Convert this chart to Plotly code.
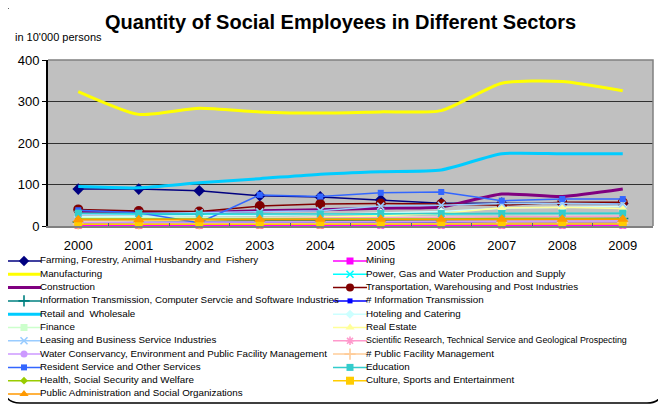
import plotly.graph_objects as go

W, H = 666, 405
# the page body adds an 8px offset; all pixel targets below are window pixels
OFF = 8

years = ['2000', '2001', '2002', '2003', '2004', '2005', '2006', '2007', '2008', '2009']
y_ticks = [0, 100, 200, 300, 400]

farming = [89, 89, 85, 73, 70, 63, 55, 55, 54, 54]
mining = [2, 2, 2, 2, 2, 2, 2, 2, 2, 2]
manufacturing = [324, 269, 284, 275, 272, 275, 278, 344, 348, 326]
power = [29, 28, 27, 28, 28, 29, 29, 30, 30, 30]
construction = [35, 33, 32, 37, 39, 43, 46, 77, 71, 89]
transport = [40, 36, 35, 48, 53, 54, 53, 50, 57, 57]
it_computer = [10, 11, 11, 12, 13, 14, 15, 16, 17, 18]
info_trans = [6, 6, 6, 7, 7, 7, 7, 7, 8, 8]
retail = [95, 92, 104, 114, 125, 131, 135, 174, 174, 174]
hoteling = [22, 23, 24, 26, 28, 32, 35, 43, 45, 47]
finance = [20, 20, 21, 21, 21, 22, 22, 23, 24, 24]
real_estate = [10, 12, 14, 18, 21, 25, 30, 44, 45, 42]
leasing = [28, 30, 32, 34, 37, 48, 50, 54, 55, 53]
scientific = [17, 17, 17, 18, 19, 20, 21, 22, 23, 24]
water = [9, 9, 9, 10, 10, 10, 11, 11, 11, 12]
public_facility = [5, 5, 5, 6, 6, 6, 6, 7, 7, 7]
resident = [38, 32, 8, 75, 71, 80, 82, 61, 65, 65]
education = [31, 30, 29, 29, 29, 30, 30, 30, 31, 31]
health = [17, 17, 17, 16, 16, 17, 17, 18, 18, 18]
culture = [4, 4, 4, 4, 4, 5, 5, 5, 5, 5]
public_admin = [15, 15, 15, 16, 16, 16, 16, 16, 16, 16]

# name, values, color, symbol, marker size, line width, smooth, legend font size
series = [
    ("Farming, Forestry, Animal Husbandry and  Fishery", farming, "#000080", "diamond", 9, 1.5, False, 9.8),
    ("Mining", mining, "#FF00FF", "square", 7, 1.5, False, 9.8),
    ("Manufacturing", manufacturing, "#FFFF00", None, 0, 3, True, 9.8),
    ("Power, Gas and Water Production and Supply", power, "#00FFFF", "x-thin", 7, 1.5, False, 9.8),
    ("Construction", construction, "#800080", None, 0, 3, True, 9.8),
    ("Transportation, Warehousing and Post Industries", transport, "#800000", "circle", 10, 1.5, False, 9.8),
    ("Information Transmission, Computer Servcie and Software Industries", it_computer, "#008080", "cross-thin", 8, 1.5, False, 9.8),
    ("# Information Transmission", info_trans, "#0000FF", "square", 5, 1.5, False, 9.8),
    ("Retail and  Wholesale", retail, "#00CCFF", None, 0, 3, True, 9.8),
    ("Hoteling and Catering", hoteling, "#CCFFFF", "diamond", 7, 1.5, False, 9.8),
    ("Finance", finance, "#CCFFCC", "square", 7, 1.5, False, 9.8),
    ("Real Estate", real_estate, "#FFFF99", "triangle-up", 8, 1.5, False, 9.8),
    ("Leasing and Business Service Industries", leasing, "#99CCFF", "x-thin", 7, 1.5, False, 9.8),
    ("Scientific Research, Technical Service and Geological Prospecting", scientific, "#FF99CC", "asterisk", 7, 1.5, False, 8.9),
    ("Water Conservancy, Environment and Public Facility Management", water, "#CC99FF", "circle", 7, 1.5, False, 9.8),
    ("# Public Facility Management", public_facility, "#FFCC99", "cross-thin", 8, 1.5, False, 9.8),
    ("Resident Service and Other Services", resident, "#3366FF", "square", 6, 1.5, False, 9.8),
    ("Education", education, "#33CCCC", "square", 7, 1.5, False, 9.8),
    ("Health, Social Security and Welfare", health, "#99CC00", "diamond", 6, 1.5, False, 9.8),
    ("Culture, Sports and Entertainment", culture, "#FFCC00", "square", 8, 1.5, False, 9.8),
    ("Public Administration and Social Organizations", public_admin, "#FF9900", "triangle-up", 10, 1.5, False, 9.8),
]

FONT = "Liberation Sans, Arial, sans-serif"

# plot area in window pixels
PL, PR, PT, PB = 48, 653, 60, 226


def px(x):
    return (x - OFF) / W


def py(y):
    return 1 - (y - OFF) / H


fig = go.Figure()


def marker_dict(color, symbol, size):
    if symbol is None:
        return dict(size=0.1, opacity=0)
    thin = symbol in ("x-thin", "cross-thin", "asterisk")
    return dict(symbol=symbol, size=size, color=color,
                line=dict(color=color, width=1.6 if thin else 0))


for name, vals, color, symbol, msize, lw, smooth, fs in series:
    fig.add_trace(go.Scatter(
        x=years, y=vals, name=name, mode="lines" if symbol is None else "lines+markers",
        line=dict(color=color, width=lw, shape="spline" if smooth else "linear", smoothing=0.6),
        marker=marker_dict(color, symbol, msize),
        showlegend=False, cliponaxis=False, xaxis="x", yaxis="y",
    ))

# custom two-column legend (row-major order, like the original)
row_h = 13.3
row0 = 261
col_x = [7, 333]
line_len = 34
mx, my, mtext, msz = [], [], [], []
for i, (name, vals, color, symbol, msize, lw, smooth, fs) in enumerate(series):
    r, c = divmod(i, 2)
    yy = row0 + r * row_h
    x0 = col_x[c]
    fig.add_trace(go.Scatter(
        x=[x0, x0 + line_len], y=[yy, yy], mode="lines",
        line=dict(color=color, width=lw), showlegend=False, hoverinfo="skip",
        xaxis="x2", yaxis="y2", cliponaxis=False,
    ))
    if symbol is not None:
        fig.add_trace(go.Scatter(
            x=[x0 + line_len / 2], y=[yy], mode="markers",
            marker=marker_dict(color, symbol, min(msize, 8)), showlegend=False, hoverinfo="skip",
            xaxis="x2", yaxis="y2", cliponaxis=False,
        ))
    mx.append(x0 + line_len - 1)
    my.append(yy)
    mtext.append(name)
    msz.append(fs)

fig.add_trace(go.Scatter(
    x=mx, y=my, text=mtext, mode="text", textposition="middle right",
    textfont=dict(family=FONT, size=msz, color="#000000"),
    showlegend=False, hoverinfo="skip", xaxis="x2", yaxis="y2", cliponaxis=False,
))

# plot area background
fig.add_shape(type="rect", xref="x domain", yref="y domain", x0=0, x1=1, y0=0, y1=1,
              fillcolor="#C0C0C0", line=dict(width=0), layer="below")
# top and right borders of plot area
fig.add_shape(type="path", xref="x domain", yref="y domain",
              path="M 0 1 L 1 1 L 1 0", line=dict(color="#808080", width=1.5), layer="above")

# rounded outer border
L, R, T, B, rr = 4, 663, 4, 403, 16
path = (f"M {px(L+rr)} {py(T)} L {px(R-rr)} {py(T)} Q {px(R)} {py(T)} {px(R)} {py(T+rr)} "
        f"L {px(R)} {py(B-rr)} Q {px(R)} {py(B)} {px(R-rr)} {py(B)} "
        f"L {px(L+rr)} {py(B)} Q {px(L)} {py(B)} {px(L)} {py(B-rr)} "
        f"L {px(L)} {py(T+rr)} Q {px(L)} {py(T)} {px(L+rr)} {py(T)} Z")
fig.add_shape(type="path", xref="paper", yref="paper", path=path,
              line=dict(color="#000000", width=1.5), layer="above")

fig.add_annotation(text="<b>Quantity of Social Employees in Different Sectors</b>",
                   xref="paper", yref="paper", x=px(340), y=py(22), xanchor="center", yanchor="middle",
                   showarrow=False, font=dict(family=FONT, size=20, color="#000000"))
fig.add_annotation(text="in 10'000 persons", xref="paper", yref="paper", x=px(13), y=py(37),
                   xanchor="left", yanchor="middle", showarrow=False,
                   font=dict(family=FONT, size=11, color="#000000"))

fig.update_layout(
    width=W, height=H,
    margin=dict(l=0, r=0, t=0, b=0, pad=0, autoexpand=False),
    paper_bgcolor="#FFFFFF", plot_bgcolor="rgba(0,0,0,0)",
    font=dict(family=FONT, color="#000000"),
    showlegend=False,
    xaxis=dict(domain=[px(PL), px(PR)], type="category", range=[-0.5, 9.5],
               showgrid=False, showline=True, linecolor="#808080", linewidth=2,
               ticks="inside", tickson="boundaries", ticklen=3, tickcolor="#606060",
               tickfont=dict(family=FONT, size=13), ticklabelstandoff=6, zeroline=False,
               anchor="y", automargin=False),
    yaxis=dict(domain=[py(PB), py(PT)], range=[0, 400], tickvals=y_ticks,
               showgrid=True, gridcolor="#303030", gridwidth=1,
               showline=True, linecolor="#000000", linewidth=2,
               ticks="outside", ticklen=4, tickcolor="#000000",
               tickfont=dict(family=FONT, size=13), zeroline=False, anchor="x",
               automargin=False),
    xaxis2=dict(domain=[0, 1], range=[OFF, W + OFF], visible=False, anchor="y2", automargin=False),
    yaxis2=dict(domain=[py(H + OFF), py(250)], range=[H + OFF, 250], visible=False,
                anchor="x2", automargin=False),
)

fig.write_html("out.html")
